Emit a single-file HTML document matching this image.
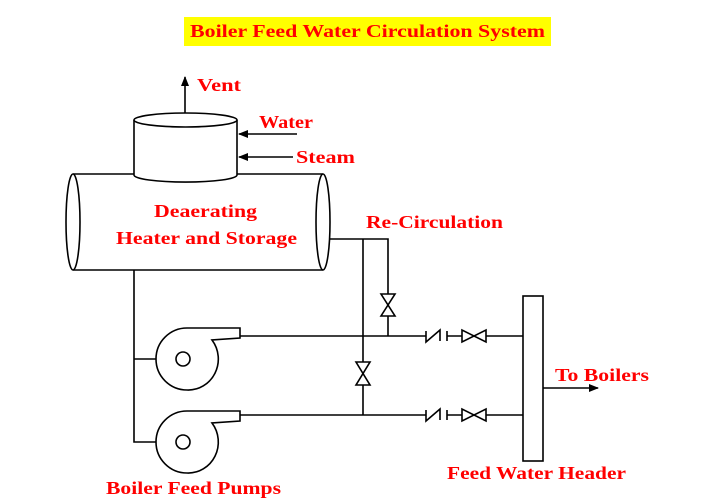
<!DOCTYPE html>
<html><head><style>
html,body{margin:0;padding:0;background:#fff;}
svg{display:block;}
text{font-family:"Liberation Serif",serif;font-weight:bold;fill:#f00;}
</style></head><body>
<svg width="720" height="501" viewBox="0 0 720 501" xmlns="http://www.w3.org/2000/svg">
<defs><marker id="a" markerWidth="10" markerHeight="8" refX="9" refY="4" orient="auto" markerUnits="userSpaceOnUse"><path d="M0,0 L10,4 L0,8Z" fill="#000"/></marker></defs>
<rect x="184" y="17" width="367" height="29" fill="#ffff00"/>
<text x="190" y="37" font-size="18" textLength="355" lengthAdjust="spacingAndGlyphs">Boiler Feed Water Circulation System</text>
<g fill="none" stroke="#000" stroke-width="1.6">
<path d="M73,174 H323 M73,270 H323"/>
<ellipse cx="73" cy="222" rx="7" ry="48" fill="#fff"/>
<ellipse cx="323" cy="222" rx="7" ry="48"/>
<path d="M134,120 V175 A51,7 0 0 0 237,175 V120" fill="#fff"/>
<ellipse cx="185.5" cy="120" rx="51.5" ry="7" fill="#fff"/>
<line x1="185" y1="113" x2="185" y2="77" marker-end="url(#a)"/>
<line x1="297" y1="134" x2="239" y2="134" marker-end="url(#a)"/>
<line x1="293" y1="157" x2="239" y2="157" marker-end="url(#a)"/>
<path d="M330,239 H388 V294 M388,316 V336 M363,239 V362 M363,385 V415"/>
<path d="M381,294 H395 L381,316 H395 Z"/>
<path d="M356,362 H370 L356,385 H370 Z"/>
<path d="M134,270 V442 H183 M134,359 H183"/>
<g id="p">
<path d="M240,328 H187 A31,31 0 0 0 187,390 A30,31 0 0 0 212,340 L240,338 Z" fill="#fff"/>
<circle cx="183" cy="359" r="7" fill="#fff"/>
</g>
<use href="#p" y="83"/>
<path d="M240,336 H426 M447,336 H462 M486,336 H523"/>
<path d="M240,415 H426 M447,415 H462 M486,415 H523"/>
<path d="M426,331 V342 L440,330 V341 M447,331 V341"/>
<path d="M426,410 V421 L440,409 V420 M447,410 V420"/>
<path d="M462,330 V342 L486,330 V342 Z"/>
<path d="M462,409 V421 L486,409 V421 Z"/>
<rect x="523" y="296" width="20" height="165" fill="#fff"/>
<line x1="543" y1="388" x2="598" y2="388" marker-end="url(#a)"/>
</g>
<text x="197" y="91" font-size="18" textLength="44" lengthAdjust="spacingAndGlyphs">Vent</text>
<text x="259" y="128" font-size="18" textLength="54" lengthAdjust="spacingAndGlyphs">Water</text>
<text x="296" y="163" font-size="18" textLength="59" lengthAdjust="spacingAndGlyphs">Steam</text>
<text x="154" y="217" font-size="18" textLength="103" lengthAdjust="spacingAndGlyphs">Deaerating</text>
<text x="116" y="244" font-size="18" textLength="181" lengthAdjust="spacingAndGlyphs">Heater and Storage</text>
<text x="366" y="228" font-size="18" textLength="137" lengthAdjust="spacingAndGlyphs">Re-Circulation</text>
<text x="555" y="381" font-size="18" textLength="94" lengthAdjust="spacingAndGlyphs">To Boilers</text>
<text x="447" y="479" font-size="18" textLength="179" lengthAdjust="spacingAndGlyphs">Feed Water Header</text>
<text x="106" y="494" font-size="18" textLength="175" lengthAdjust="spacingAndGlyphs">Boiler Feed Pumps</text>
</svg>
</body></html>
